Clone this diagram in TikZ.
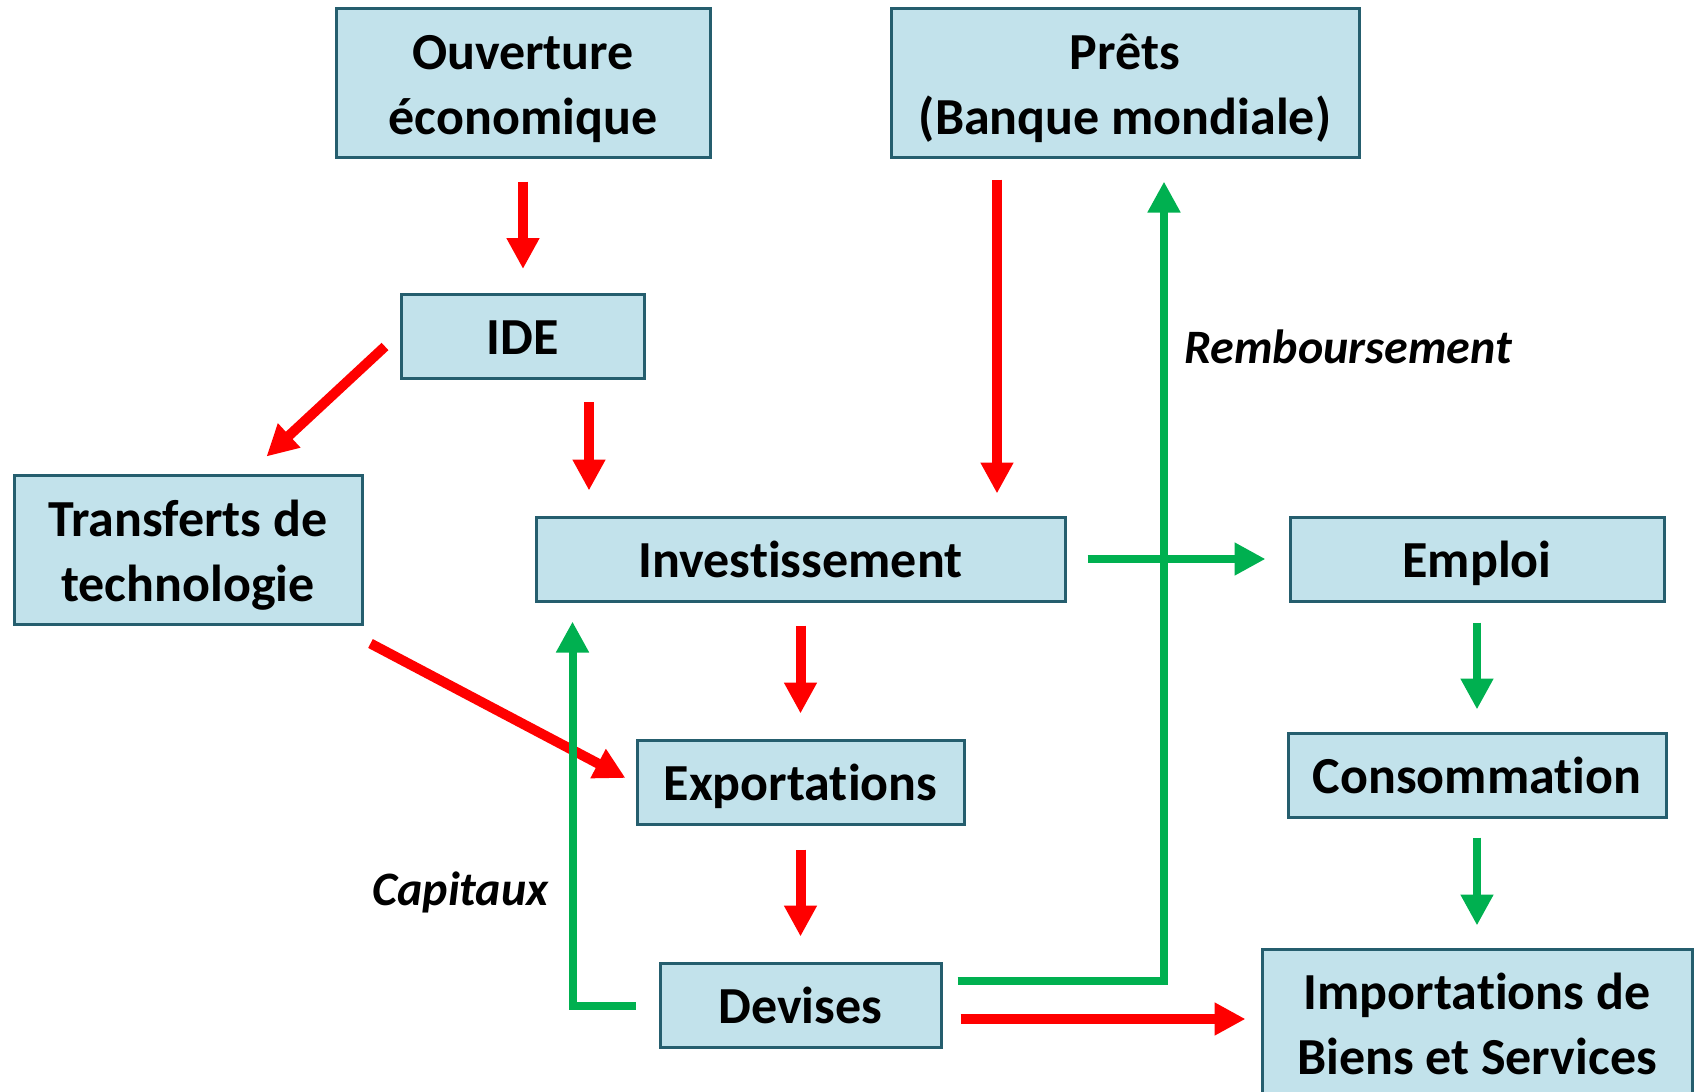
\documentclass[tikz,border=0pt]{standalone}
\usepackage{fontspec}
\setmainfont{Carlito}[Ligatures={NoCommon,NoContextual,NoRequired},RawFeature={-calt}]
\usepackage{tikz}
\usetikzlibrary{arrows.meta,calc}
\definecolor{boxfill}{RGB}{194,226,235}
\definecolor{boxline}{RGB}{37,94,110}
\definecolor{flowred}{RGB}{255,0,0}
\definecolor{flowgreen}{RGB}{0,176,80}
\newcommand{\topline}{\rule{0pt}{27pt}}
\newcommand{\botline}{\rule[-8pt]{0pt}{8pt}}
\newcommand{\tinolig}{t\kern0pt i}

\begin{document}
\begin{tikzpicture}[x=0.5pt,y=-0.5pt,
  every node/.style={font=\fontsize{26}{32.5}\selectfont\bfseries},
  box/.style={draw=boxline,fill=boxfill,line width=1.5pt,align=center,inner sep=0pt,minimum height=42pt},
  onebox/.style={box,text height=24pt,text depth=6pt},
  lbl/.style={font=\fontsize{24}{29}\selectfont\bfseries\itshape,inner sep=0pt},
  redarr/.style={draw=flowred,line width=5pt,-{Triangle[length=15.5pt,width=15.5pt]}},
  greenarr/.style={draw=flowgreen,line width=4pt,-{Triangle[length=15.5pt,width=15.5pt]}}]
  \useasboundingbox (0,0) rectangle (1694,1092);
  \coordinate (c0) at (523,82.5);
  \coordinate (c1) at (1125,82.5);
  \coordinate (c2) at (523,336.5);
  \coordinate (c3) at (188,549.5);
  \coordinate (c4) at (800.5,559);
  \coordinate (c5) at (1477,559);
  \coordinate (c6) at (800.5,782);
  \coordinate (c7) at (1477,775);
  \coordinate (c8) at (800.5,1005);
  \coordinate (c9) at (1477,1024);
  \node[box,minimum width=187pt,minimum height=74.5pt] (ouv) at (c0) {\topline Ouverture\\économique\botline};
  \node[box,minimum width=234pt,minimum height=74.5pt] (prets) at (c1) {\topline Prêts\\(Banque mondiale)\botline};
  \node[onebox,minimum width=121.5pt] (ide) at (c2) {IDE};
  \node[box,minimum width=174pt,minimum height=74.5pt] (transf) at (c3) {\topline Transferts de\\technologie\botline};
  \node[onebox,minimum width=264.5pt] (invest) at (c4) {Inves\tinolig ssement};
  \node[onebox,minimum width=187pt] (emploi) at (c5) {Emploi};
  \node[onebox,minimum width=163.5pt] (export) at (c6) {Exporta\tinolig ons};
  \node[onebox,minimum width=189pt] (conso) at (c7) {Consomma\tinolig on};
  \node[onebox,minimum width=140.5pt] (devises) at (c8) {Devises};
  \node[box,minimum width=215pt,minimum height=75pt] (import) at (c9) {Importa\tinolig ons de\\Biens et Services};
  \node[lbl,anchor=west] (rembLbl) at (1184,347) {Remboursement};
  \node[lbl,anchor=east] (capLbl) at (549,892) {Capitaux};
  \draw[redarr] ($(ouv.south)+(0,23)$) -- ($(ide.north)+(0,-24)$);
  \draw[redarr] ($(ide.west)+(-15,10)$) -- ($(transf.north east)+(-97,-17)$);
  \draw[redarr] ($(ide.south)+(66,22)$) -- ($(invest.north)+(-211.5,-25)$);
  \draw[redarr] ($(prets.south)+(-128,21)$) -- ($(invest.north)+(196.5,-22)$);
  \draw[redarr] ($(transf.south east)+(7,18)$) -- ($(export.west)+(-10,-4)$);
  \draw[redarr] ($(invest.south)+(0,23)$) -- ($(export.north)+(0,-25)$);
  \draw[redarr] ($(export.south)+(0,24)$) -- ($(devises.north)+(0,-25)$);
  \draw[redarr] ($(devises.east)+(18,14)$) -- ($(import.west)+(-15,-5)$);
  \draw[greenarr] ($(devises.east)+(15,-24)$) -| ($(prets.south)+(39,23)$);
  \draw[greenarr] ($(devises.west)+(-23,1)$) -| ($(invest.south west)+(38,19)$);
  \draw[greenarr] ($(invest.east)+(21,0)$) -- ($(emploi.west)+(-23,0)$);
  \draw[greenarr] ($(emploi.south)+(0,20)$) -- ($(conso.north)+(0,-22)$);
  \draw[greenarr] ($(conso.south)+(0,19)$) -- ($(import.north)+(0,-22)$);
\end{tikzpicture}
\end{document}
